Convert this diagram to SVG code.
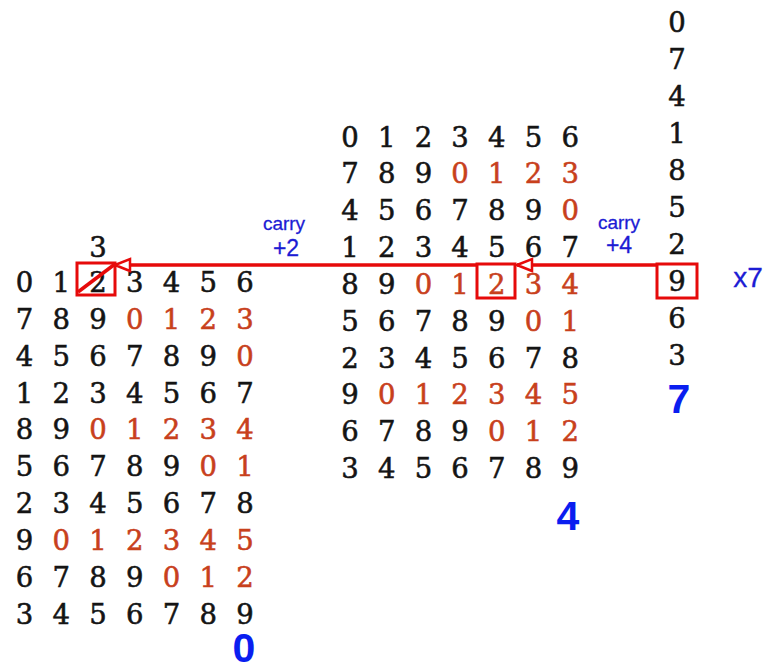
<svg xmlns="http://www.w3.org/2000/svg" width="773" height="670" viewBox="0 0 773 670">
<style>
.d{font-family:"DejaVu Serif","Liberation Serif",serif;font-size:27.5px;fill:#141414;stroke:#141414;stroke-width:0.55;text-anchor:middle}
.r{fill:#c8401c;stroke:#c8401c}
.box{fill:none;stroke:#e60a0a;stroke-width:3}
.conn{stroke:#e60a0a;stroke-width:3.5;fill:none}
.lab{font-family:"Liberation Sans",Arial,sans-serif;fill:#1c1cd4;stroke:#1c1cd4;stroke-width:0.3;text-anchor:middle}
.big{font-family:"Liberation Sans",Arial,sans-serif;font-weight:bold;font-size:41px;fill:#0a1ef0;text-anchor:middle}
</style>
<defs>
<marker id="ah" markerUnits="userSpaceOnUse" markerWidth="20" markerHeight="16" viewBox="0 0 20 16" refX="17" refY="8" orient="auto">
<path d="M2,2 L17,8 L2,14 Z" fill="#fff" stroke="#e60a0a" stroke-width="2.5" stroke-linejoin="miter"/>
</marker>
</defs>
<rect width="773" height="670" fill="#fff"/>

<g id="right-column">
<text class="d" x="677" y="32">0</text>
<text class="d" x="677" y="69">7</text>
<text class="d" x="677" y="106">4</text>
<text class="d" x="677" y="143">1</text>
<text class="d" x="677" y="180">8</text>
<text class="d" x="677" y="217">5</text>
<text class="d" x="677" y="254">2</text>
<text class="d" x="677" y="291">9</text>
<text class="d" x="677" y="328">6</text>
<text class="d" x="677" y="365">3</text>
<rect class="box" x="657" y="264" width="40" height="34"/>
<text class="big" x="679" y="413">7</text>
<text class="lab" x="748" y="287" font-size="28">x7</text>
</g>

<g id="middle-grid">
<text class="d" x="350 386.7 423.4 460.1 496.8 533.5 570.2" y="146.5">0123456</text>
<text class="d" x="350 386.7 423.4" y="183.3">789<tspan class="r" x="460.1 496.8 533.5 570.2">0123</tspan></text>
<text class="d" x="350 386.7 423.4 460.1 496.8 533.5" y="220.2">456789<tspan class="r" x="570.2">0</tspan></text>
<text class="d" x="350 386.7 423.4 460.1 496.8 533.5 570.2" y="257">1234567</text>
<text class="d" x="350 386.7" y="293.9">89<tspan class="r" x="423.4 460.1 496.8 533.5 570.2">01234</tspan></text>
<text class="d" x="350 386.7 423.4 460.1 496.8" y="330.7">56789<tspan class="r" x="533.5 570.2">01</tspan></text>
<text class="d" x="350 386.7 423.4 460.1 496.8 533.5 570.2" y="367.5">2345678</text>
<text class="d" x="350" y="404.4">9<tspan class="r" x="386.7 423.4 460.1 496.8 533.5 570.2">012345</tspan></text>
<text class="d" x="350 386.7 423.4 460.1" y="441.2">6789<tspan class="r" x="496.8 533.5 570.2">012</tspan></text>
<text class="d" x="350 386.7 423.4 460.1 496.8 533.5 570.2" y="478.1">3456789</text>
<rect class="box" x="477" y="264" width="38" height="34"/>
<text class="big" x="568" y="530">4</text>
</g>

<g id="left-grid">
<text class="d" x="98" y="256.5">3</text>
<text class="d" x="24.5 61.25 98 134.75 171.5 208.25 245" y="292">0123456</text>
<text class="d" x="24.5 61.25 98" y="328.8">789<tspan class="r" x="134.75 171.5 208.25 245">0123</tspan></text>
<text class="d" x="24.5 61.25 98 134.75 171.5 208.25" y="365.7">456789<tspan class="r" x="245">0</tspan></text>
<text class="d" x="24.5 61.25 98 134.75 171.5 208.25 245" y="402.5">1234567</text>
<text class="d" x="24.5 61.25" y="439.4">89<tspan class="r" x="98 134.75 171.5 208.25 245">01234</tspan></text>
<text class="d" x="24.5 61.25 98 134.75 171.5" y="476.2">56789<tspan class="r" x="208.25 245">01</tspan></text>
<text class="d" x="24.5 61.25 98 134.75 171.5 208.25 245" y="513">2345678</text>
<text class="d" x="24.5" y="549.9">9<tspan class="r" x="61.25 98 134.75 171.5 208.25 245">012345</tspan></text>
<text class="d" x="24.5 61.25 98 134.75" y="586.7">6789<tspan class="r" x="171.5 208.25 245">012</tspan></text>
<text class="d" x="24.5 61.25 98 134.75 171.5 208.25 245" y="623.6">3456789</text>
<rect class="box" x="77" y="263" width="38" height="32"/>
<line class="conn" x1="78" y1="292" x2="115" y2="264" stroke-width="3"/>
<text class="big" x="244" y="662" font-size="35">0</text>
</g>

<g id="connectors">
<line class="conn" x1="477" y1="265" x2="115" y2="265" marker-end="url(#ah)"/>
<line class="conn" x1="657" y1="265" x2="517" y2="265" marker-end="url(#ah)"/>
</g>

<g id="carry-labels">
<text class="lab" x="284" y="230" font-size="19">carry</text>
<text class="lab" x="286" y="256" font-size="23">+2</text>
<text class="lab" x="619" y="229" font-size="19">carry</text>
<text class="lab" x="619" y="253" font-size="23">+4</text>
</g>
</svg>
